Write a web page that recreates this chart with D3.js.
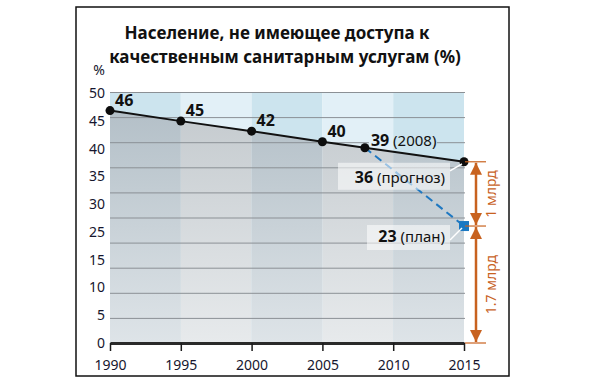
<!DOCTYPE html>
<html>
<head>
<meta charset="utf-8">
<script src="https://cdn.jsdelivr.net/npm/d3@7"></script>
<style>
  body { margin: 0; background: #fff; }
  text { font-family: "Noto Sans", "Open Sans", sans-serif; }
</style>
</head>
<body>
<svg id="chart" width="591" height="384"></svg>
<script>
// values
const years = [1990, 1995, 2000, 2005, 2008, 2015];
const shares = [46.3, 44.2, 42.2, 40.1, 38.9, 36.1];
const shareLabels = ['46', '45', '42', '40', '39', '36'];
const planYears = [2008, 2015];
const planShares = [38.9, 23.3];
const xTicks = [1990, 1995, 2000, 2005, 2010, 2015];
// the source skips "20" on its axis, kept as printed
const yTickLabels = ['50', '45', '40', '35', '30', '25', '15', '10', '5', '0'];
const titleLines = ['Население, не имеющее доступа к', 'качественным санитарным услугам (%)'];
const bracketLabels = ['1 млрд', '1.7 млрд'];

const svg = d3.select('#chart');
const orange = '#c8621f';
const ink = '#16162e';

const x = d3.scaleLinear().domain([1990, 2015]).range([110, 464]);
const y = d3.scaleLinear().domain([0, 50]).range([343, 92]);
const yLab = d3.scalePoint().domain(yTickLabels).range([93, 343]);

const series = years.map((yr, i) => ({ year: yr, v: shares[i], label: shareLabels[i] }));
const plan = planYears.map((yr, i) => ({ year: yr, v: planShares[i] }));

// frame
svg.append('rect')
  .attr('x', 76).attr('y', 7).attr('width', 433).attr('height', 369)
  .attr('fill', 'none').attr('stroke', '#111').attr('stroke-width', 1.5);

// title
svg.selectAll('text.title')
  .data(titleLines)
  .join('text')
  .attr('class', 'title')
  .attr('x', (d, i) => i === 0 ? 277 : 285)
  .attr('y', (d, i) => 39 + i * 24)
  .attr('text-anchor', 'middle')
  .style('font-size', '17px')
  .style('font-weight', 700)
  .style('fill', '#111')
  .text(d => d);

const defs = svg.append('defs');
const gradColors = [['#b4c0c8', '#dee4e8'], ['#c5cbcf', '#e7eaec']];
gradColors.forEach((c, i) => {
  const g = defs.append('linearGradient')
    .attr('id', 'under' + i)
    .attr('gradientUnits', 'userSpaceOnUse')
    .attr('x1', 0).attr('x2', 0).attr('y1', y(46)).attr('y2', y(0));
  g.append('stop').attr('offset', 0).attr('stop-color', c[0]);
  g.append('stop').attr('offset', 1).attr('stop-color', c[1]);
});

const area = d3.area().x(d => x(d.year)).y0(y(0)).y1(d => y(d.v));
defs.append('clipPath').attr('id', 'below')
  .append('path').attr('d', area(series));

// columns: upper part and part under the line
const cols = d3.pairs(xTicks);
const topColors = ['#cce4ee', '#e2f0f7'];
svg.append('g').selectAll('rect')
  .data(cols)
  .join('rect')
  .attr('x', d => x(d[0])).attr('width', d => x(d[1]) - x(d[0]))
  .attr('y', y(50)).attr('height', y(0) - y(50))
  .attr('fill', (d, i) => topColors[i % 2]);

svg.append('g').attr('clip-path', 'url(#below)')
  .selectAll('rect')
  .data(cols)
  .join('rect')
  .attr('x', d => x(d[0])).attr('width', d => x(d[1]) - x(d[0]))
  .attr('y', y(50)).attr('height', y(0) - y(50))
  .attr('fill', (d, i) => `url(#under${i % 2})`);

// gridlines, with a gap behind the 2008 label
const last = series[series.length - 2];
const mask = defs.append('mask').attr('id', 'gridmask');
mask.append('rect').attr('x', 0).attr('y', 0).attr('width', 591).attr('height', 384).attr('fill', '#fff');
mask.append('rect')
  .attr('x', x(last.year) + 4).attr('y', y(last.v) - 14)
  .attr('width', 68).attr('height', 12).attr('fill', '#000');

svg.append('g').attr('mask', 'url(#gridmask)')
  .selectAll('line')
  .data(y.ticks(10).filter(t => t > 0))
  .join('line')
  .attr('x1', x(1990)).attr('x2', x(2015) + 1)
  .attr('y1', d => y(d) + 0.5).attr('y2', d => y(d) + 0.5)
  .attr('stroke', '#8b9095').attr('stroke-width', 1);

// y labels
const yAxis = svg.append('g')
  .attr('transform', 'translate(105,0)')
  .call(d3.axisLeft(yLab).tickSize(0).tickPadding(0));
yAxis.select('.domain').remove();
yAxis.selectAll('text')
  .style('font-size', '14px')
  .style('font-family', '"Noto Sans", sans-serif')
  .attr('fill', ink);

svg.append('text')
  .attr('x', 99).attr('y', 75)
  .attr('text-anchor', 'middle')
  .style('font-size', '14px')
  .attr('fill', ink)
  .text('%');

// x axis
const xAxis = svg.append('g')
  .attr('transform', `translate(0,${y(0)})`)
  .call(d3.axisBottom(x).tickValues(xTicks).tickFormat(d3.format('d')).tickSize(8).tickSizeOuter(0).tickPadding(9));
xAxis.select('.domain').attr('stroke', '#2a2a2a').attr('stroke-width', 3);
xAxis.selectAll('.tick line').attr('stroke', '#1a1a1a').attr('stroke-width', 1.5);
xAxis.selectAll('text')
  .style('font-size', '14px')
  .style('font-family', '"Noto Sans", sans-serif')
  .attr('fill', ink);

// plan: dashed line to the 2015 target
svg.append('path')
  .datum(plan)
  .attr('d', d3.line().x(d => x(d.year)).y(d => y(d.v)))
  .attr('fill', 'none')
  .attr('stroke', '#1f78c1')
  .attr('stroke-width', 2)
  .attr('stroke-dasharray', '8,5');

// main line
svg.append('path')
  .datum(series)
  .attr('d', d3.line().x(d => x(d.year)).y(d => y(d.v)))
  .attr('fill', 'none')
  .attr('stroke', '#111')
  .attr('stroke-width', 2);

svg.selectAll('circle.pt')
  .data(series)
  .join('circle')
  .attr('class', 'pt')
  .attr('cx', d => x(d.year)).attr('cy', d => y(d.v))
  .attr('r', 4.5)
  .attr('fill', '#0d0d0d');

const target = plan[1];
svg.append('rect')
  .attr('x', x(target.year) - 5).attr('y', y(target.v) - 5)
  .attr('width', 10).attr('height', 10)
  .attr('fill', '#1a78c2');

// value labels
svg.selectAll('text.val')
  .data(series.slice(0, 4))
  .join('text')
  .attr('class', 'val')
  .attr('x', d => x(d.year) + 5).attr('y', d => y(d.v) - 5)
  .style('font-size', '16px').style('font-weight', 700)
  .attr('fill', '#111')
  .text(d => d.label);

const t2008 = svg.append('text')
  .attr('x', x(last.year) + 6).attr('y', y(last.v) - 2)
  .style('font-size', '15px')
  .attr('fill', '#111');
t2008.append('tspan').style('font-weight', 700).style('font-size', '16px').text(last.label);
t2008.append('tspan').text(' (2008)');

// boxed callouts
const end = series[series.length - 1];
const callouts = [
  { d: end, num: end.label, txt: ' (прогноз)', w: 112, top: y(end.v) + 1, h: 27, base: 20, link: 8 },
  { d: target, num: '23', txt: ' (план)', w: 83, top: y(target.v) - 1, h: 25, base: 17, link: 15 }
];
callouts.forEach(c => {
  const right = x(c.d.year) - 14;
  svg.append('line')
    .attr('x1', right).attr('y1', c.top + c.link)
    .attr('x2', x(c.d.year) - 2).attr('y2', y(c.d.v) + 2)
    .attr('stroke', '#fff').attr('stroke-width', 1.5);
  svg.append('rect')
    .attr('x', right - c.w).attr('y', c.top)
    .attr('width', c.w).attr('height', c.h)
    .attr('fill', '#fff').attr('fill-opacity', 0.55);
  const t = svg.append('text')
    .attr('x', right - 5).attr('y', c.top + c.base)
    .attr('text-anchor', 'end')
    .style('font-size', '15px')
    .attr('fill', '#111');
  t.append('tspan').style('font-weight', 700).style('font-size', '16px').text(c.num);
  t.append('tspan').text(c.txt);
});

// orange brackets
defs.append('marker')
  .attr('id', 'head')
  .attr('viewBox', '0 0 10 10')
  .attr('refX', 10).attr('refY', 5)
  .attr('markerUnits', 'userSpaceOnUse')
  .attr('markerWidth', 12).attr('markerHeight', 12)
  .attr('orient', 'auto-start-reverse')
  .append('path').attr('d', 'M0,0L10,5L0,10Z').attr('fill', orange);

const bx = x(2015) + 12;
const levels = [end.v, target.v, 0];
svg.selectAll('line.lvl')
  .data(levels)
  .join('line')
  .attr('class', 'lvl')
  .attr('x1', x(2015) + 1).attr('x2', x(2015) + 22)
  .attr('y1', d => y(d)).attr('y2', d => y(d))
  .attr('stroke', orange).attr('stroke-width', 1.2);

d3.pairs(levels).forEach((p, i) => {
  svg.append('line')
    .attr('x1', bx).attr('x2', bx)
    .attr('y1', y(p[0]) + 1).attr('y2', y(p[1]) - 1)
    .attr('stroke', orange).attr('stroke-width', 2.5)
    .attr('marker-start', 'url(#head)')
    .attr('marker-end', 'url(#head)');
  svg.append('text')
    .attr('transform', `translate(${bx + 16},${(y(p[0]) + y(p[1])) / 2}) rotate(-90)`)
    .attr('text-anchor', 'middle')
    .attr('dominant-baseline', 'middle')
    .style('font-size', '14px')
    .attr('fill', orange)
    .text(bracketLabels[i]);
});
</script>
</body>
</html>
